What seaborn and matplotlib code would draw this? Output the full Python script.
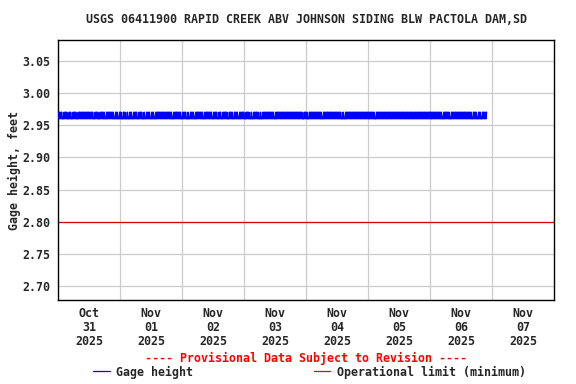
import matplotlib
matplotlib.use("Agg")
import matplotlib.pyplot as plt
from matplotlib.lines import Line2D
import seaborn as sns
import pandas as pd

# ---- data ----
title = "USGS 06411900 RAPID CREEK ABV JOHNSON SIDING BLW PACTOLA DAM,SD"
start_time = "2025-10-30 12:00"
step = "15min"
low_value = 2.96   # digit '0'
high_value = 2.97  # digit '1'
# 15-minute readings, one row per 12 hours, '0' = 2.96 ft, '1' = 2.97 ft
gage_rows = [
    "01 01 01 00 01 01 01 00 01 01 00 01 01 01 00 01 01 01 01 01 01 01 01 01",
    "01 01 01 00 01 01 01 00 01 01 01 01 00 01 01 01 01 01 01 00 01 01 00 01",
    "01 00 01 01 00 01 00 01 01 00 01 01 01 00 01 01 01 00 01 00 01 01 01 00",
    "01 01 00 01 01 01 01 01 01 01 01 01 01 01 01 01 00 01 01 01 01 01 01 00",
    "01 01 01 00 01 00 01 01 01 00 01 01 01 01 01 01 00 01 01 01 01 01 01 00",
    "01 01 01 00 01 01 00 01 01 01 01 00 01 01 01 00 01 01 01 00 01 01 01 01",
    "00 01 01 01 00 01 00 01 01 01 01 00 01 00 01 01 01 01 01 01 01 01 01 00",
    "01 01 01 01 01 01 01 01 01 01 01 01 01 01 01 01 01 01 01 01 01 00 01 01",
    "01 00 01 01 01 01 01 01 01 01 01 01 00 01 01 01 01 01 01 01 01 01 01 01",
    "01 01 01 00 01 00 01 01 01 01 01 01 01 01 01 01 01 01 01 01 01 01 01 01",
    "01 01 01 01 01 00 01 01 01 01 01 01 01 01 01 01 01 01 01 01 01 01 01 01",
    "01 01 01 01 01 01 01 01 01 01 01 01 01 01 01 01 01 01 01 01 01 01 01 01",
    "01 01 01 01 01 01 01 01 01 00 01 01 01 01 01 00 01 01 01 01 01 01 01 01",
    "01 01 01 01 01 01 01 01 00 01 01 01 00 01 01 00 01 01 01 01",
]
operational_limit_min = 2.80
tick_days = ["2025-10-31", "2025-11-01", "2025-11-02", "2025-11-03",
             "2025-11-04", "2025-11-05", "2025-11-06", "2025-11-07"]
tick_labels = ["Oct\n31\n2025", "Nov\n01\n2025", "Nov\n02\n2025", "Nov\n03\n2025",
               "Nov\n04\n2025", "Nov\n05\n2025", "Nov\n06\n2025", "Nov\n07\n2025"]
y_ticks = [2.70, 2.75, 2.80, 2.85, 2.90, 2.95, 3.00, 3.05]
x_range = ["2025-10-30 12:00", "2025-11-07 12:00"]
y_range = [2.679, 3.082]

# ---- build series ----
digits = "".join(r.replace(" ", "") for r in gage_rows)
values = [high_value if d == "1" else low_value for d in digits]
times = pd.date_range(start_time, periods=len(values), freq=step)
df = pd.DataFrame({"time": times, "gage": values})

sns.set_style("white")
FONT = ["DejaVu Sans Mono"]
plt.rcParams["font.family"] = FONT
plt.rcParams["font.weight"] = "bold"
FS = 8.4

fig = plt.figure(figsize=(5.76, 3.84), dpi=100)
ax = fig.add_axes([58.3 / 576, 1 - 300 / 384, (554.3 - 58.3) / 576, 260 / 384])

sns.lineplot(data=df, x="time", y="gage", ax=ax, color="#0000ff", lw=1.15,
             estimator=None, legend=False, zorder=3)
ax.axhline(operational_limit_min, color="#dd0000", lw=0.9, zorder=2)

ax.set_xlim(pd.Timestamp(x_range[0]), pd.Timestamp(x_range[1]))
ax.set_ylim(*y_range)

major = [pd.Timestamp(d) for d in tick_days]
ax.set_xticks(major)
ax.set_xticklabels(tick_labels, fontsize=FS, fontweight="bold", linespacing=1.12)
noon = [pd.Timestamp(d) + pd.Timedelta(hours=12) for d in tick_days[:-1]]
ax.set_xticks(noon, minor=True)
ax.grid(False)
ax.grid(True, which="minor", axis="x", color="#cccccc", lw=0.9)
ax.set_yticks(y_ticks)
ax.set_yticklabels([f"{v:.2f}" for v in y_ticks], fontsize=FS, fontweight="bold")
ax.grid(True, which="major", axis="y", color="#cccccc", lw=0.9)
ax.set_axisbelow(True)
ax.tick_params(axis="both", which="both", length=0)
ax.tick_params(axis="x", which="major", pad=5)
ax.tick_params(axis="y", which="major", pad=6)

for s in ax.spines.values():
    s.set_visible(True)
    s.set_color("black")
    s.set_linewidth(1.0)

ax.set_xlabel("")
ax.set_ylabel("Gage height, feet", fontsize=FS, fontweight="bold", labelpad=1)
ax.set_title(title, fontsize=FS, fontweight="bold", pad=12)

fig.text(0.5315, 1 - 358 / 384, "---- Provisional Data Subject to Revision ----",
         color="red", ha="center", va="center", fontsize=FS, fontweight="bold")

h1 = Line2D([], [], color="#0000ff", lw=0.9)
h2 = Line2D([], [], color="#dd0000", lw=0.9)
fig.legend([h1, h2], ["Gage height", "Operational limit (minimum)"],
           loc="center left", bbox_to_anchor=(93 / 576, 1 - 372 / 384),
           ncol=2, frameon=False, fontsize=FS, handlelength=1.45,
           handletextpad=0.55, columnspacing=10.3, borderpad=0, borderaxespad=0,
           prop={"weight": "bold", "size": FS, "family": FONT})

fig.savefig("out.png", dpi=100, facecolor="white")
